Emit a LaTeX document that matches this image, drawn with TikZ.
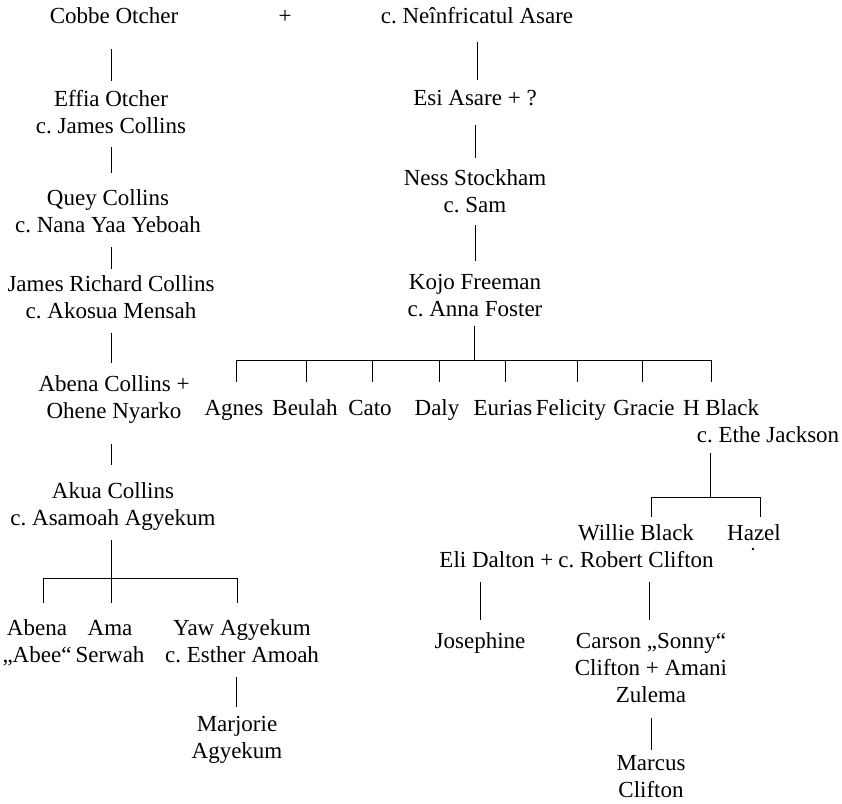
\documentclass[tikz,border=0pt]{standalone}
\usepackage{fontspec}
\setmainfont{Liberation Serif}
\newcommand\st{\strut}
\begin{document}
\begin{tikzpicture}[x=1pt,y=-1pt,
  p/.style={inner sep=0pt,outer sep=0pt,align=center,font=\fontsize{23}{27}\selectfont\frenchspacing},
  conn/.style={draw=black,line width=0.9pt}]
\useasboundingbox[fill=white] (0,0) rectangle (842,803);
% ---------- left column
\node[p] (cobbe) at (114,18) {\st Cobbe Otcher};
\node[p] (plus) at (285,18) {\st +};
\node[p] (neinf) at (477,18) {\st c. Neînfricatul Asare};
\node[p] (effia) at (111,115) {\st Effia Otcher\\\st c. James Collins};
\node[p] (quey) at (108,213.5) {\st Quey Collins\\\st c. Nana Yaa Yeboah};
\node[p] (james) at (111,300) {\st James Richard Collins\\\st c. Akosua Mensah};
\node[p] (abena) at (114,400) {\st Abena Collins +\\\st Ohene Nyarko};
\node[p] (akua) at (113,506.5) {\st Akua Collins\\\st c. Asamoah Agyekum};
\node[p] (abee) at (37,643.5) {\st Abena\\\st „Abee“};
\node[p] (ama) at (110,643.5) {\st Ama\\\st Serwah};
\node[p] (yaw) at (242,643.5) {\st Yaw Agyekum\\\st c. Esther Amoah};
\node[p] (marjorie) at (237,740) {\st Marjorie\\\st Agyekum};
\coordinate (aj) at (111,578);

\draw[conn, shorten <=17.5pt, shorten >=7.5pt] (effia.north |- cobbe.south) -- (effia.north);
\draw[conn, shorten <=4.5pt, shorten >=13.5pt] (effia.south) -- (effia.south |- quey.north);
\draw[conn, shorten <=6.5pt, shorten >=4.5pt] (james.north |- quey.south) -- (james.north);
\draw[conn, shorten <=5.5pt, shorten >=10.5pt] (james.south) -- (james.south |- abena.north);
\draw[conn, shorten <=16.5pt, shorten >=14.5pt] ([xshift=-3pt]abena.south) -- ([xshift=-3pt]abena.south |- akua.north);
\draw[conn, shorten <=6.5pt] (aj |- akua.south) -- (aj);
\draw[conn, shorten >=13.5pt] (aj) -| ([xshift=6pt]abee.north);
\draw[conn, shorten >=13.5pt] (aj) -- (aj |- ama.north);
\draw[conn, shorten >=13.5pt] (aj) -| ([xshift=-5pt]yaw.north);
\draw[conn, shorten <=6.5pt, shorten >=6pt] ([xshift=-6pt]yaw.south) -- ([xshift=-6pt]yaw.south |- marjorie.north);

% ---------- right column
\node[p] (esi) at (475,100) {\st Esi Asare + ?};
\node[p] (ness) at (475,193.5) {\st Ness Stockham\\\st c. Sam};
\node[p] (kojo) at (475,297.5) {\st Kojo Freeman\\\st c. Anna Foster};
\coordinate (kj) at (474,360);

\draw[conn, shorten <=10.5pt, shorten >=6.5pt] (neinf.south) -- (neinf.south |- esi.north);
\draw[conn, shorten <=11.5pt, shorten >=8.5pt] (esi.south) -- (esi.south |- ness.north);
\draw[conn, shorten <=4.5pt, shorten >=9.5pt] (ness.south) -- (ness.south |- kojo.north);
\draw[conn, shorten <=1pt] (kj |- kojo.south) -- (kj);

\node[p] (agnes) at (234,410) {\st Agnes};
\node[p] (beulah) at (305,410) {\st Beulah};
\node[p] (cato) at (370,410) {\st Cato};
\node[p] (daly) at (437,410) {\st Daly};
\node[p] (eurias) at (503,410) {\st Eurias};
\node[p] (felicity) at (571,410) {\st Felicity};
\node[p] (gracie) at (644,410) {\st Gracie};
\node[p] (hblack) at (721,410) {\st H Black};
\node[p] (ethe) at (768,437) {\st c. Ethe Jackson};

\draw[conn, shorten >=14.5pt] (kj) -| ([xshift=2pt]agnes.north);
\draw[conn, shorten >=14.5pt] (kj) -| ([xshift=1pt]beulah.north);
\draw[conn, shorten >=14.5pt] (kj) -| ([xshift=2pt]cato.north);
\draw[conn, shorten >=14.5pt] (kj) -| ([xshift=2pt]daly.north);
\draw[conn, shorten >=14.5pt] (kj) -| ([xshift=2pt]eurias.north);
\draw[conn, shorten >=14.5pt] (kj) -| ([xshift=6pt]felicity.north);
\draw[conn, shorten >=14.5pt] (kj) -| ([xshift=-2pt]gracie.north);
\draw[conn, shorten >=14.5pt] (kj) -| ([xshift=-10pt]hblack.north);

\coordinate (hj) at (710,497);
\node[p] (willie) at (636,549) {\st Willie Black\\\st c. Robert Clifton};
\node[p] (hazel) at (754,535) {\st Hazel};
\node[p, anchor=east] (eli) at ([xshift=-5pt,yshift=13.5pt]willie.south west) {\st Eli Dalton +};
\draw[conn, shorten <=2.5pt] (hj |- ethe.south) -- (hj);
\draw[conn, shorten >=5pt] (hj) -| ([xshift=15pt]willie.north);
\draw[conn, shorten >=4.5pt] (hj) -| ([xshift=6pt]hazel.north);
\fill (753,549) circle (1.3pt);

\node[p] (josephine) at (480,643) {\st Josephine};
\node[p] (carson) at (651,670) {\st Carson „Sonny“\\\st Clifton + Amani\\\st Zulema};
\node[p] (marcus) at (651,778.5) {\st Marcus\\\st Clifton};
\draw[conn, shorten <=5.5pt, shorten >=9.5pt] (josephine.north |- eli.south) -- (josephine.north);
\draw[conn, shorten <=6pt, shorten >=9.5pt] ([xshift=-2pt]carson.north |- willie.south) -- ([xshift=-2pt]carson.north);
\draw[conn, shorten <=7.5pt, shorten >=1.5pt] (carson.south) -- (carson.south |- marcus.north);
\end{tikzpicture}
\end{document}
